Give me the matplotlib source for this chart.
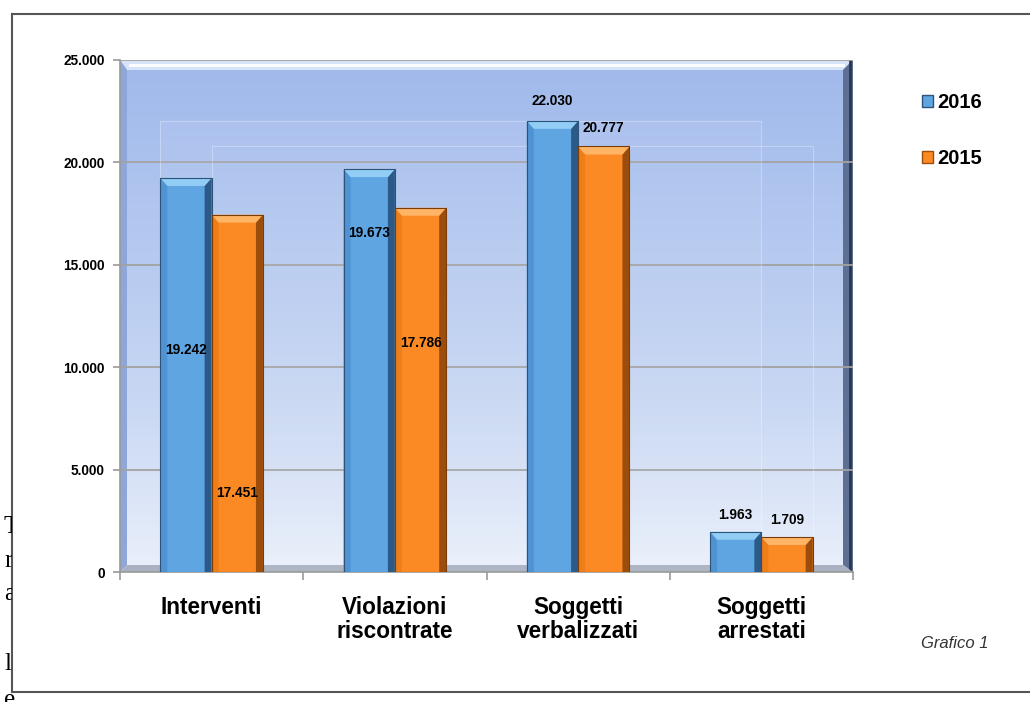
import numpy as np
import matplotlib
matplotlib.use('Agg')
import matplotlib.pyplot as plt
from matplotlib.patches import Polygon, Rectangle, Patch
from matplotlib.colors import LinearSegmentedColormap
from matplotlib.lines import Line2D
from matplotlib.transforms import Bbox, TransformedBbox

plt.rcParams['font.family'] = ['Liberation Sans', 'DejaVu Sans']

# --- dati ---
CATEGORIE = ['Interventi', 'Violazioni\nriscontrate', 'Soggetti\nverbalizzati', 'Soggetti\narrestati']
VAL_2016 = [19242, 19673, 22030, 1963]
VAL_2015 = [17451, 17786, 20777, 1709]
# altezza delle etichette dati, come posizionate a mano nell'originale
ETI_2016 = [10840, 16550, 23020, 2780]
ETI_2015 = [3860, 11180, 21680, 2540]
YTICKS = [0, 5000, 10000, 15000, 20000, 25000]

BLU = dict(face='#5fa5e2', left='#4f93d2', right='#2c5a88', top='#92cdf6', edge='#2d5478')
ARANCIO = dict(face='#fb8a24', left='#ef7d18', right='#9c4d0c', top='#ffb466', edge='#7a3d0a')

W = 0.28

fig = plt.figure(figsize=(10.30, 7.02), dpi=100, facecolor='white')
ax = fig.add_axes([120 / 1030, 1 - 572 / 702, 733 / 1030, 512 / 702])

ax.set_xlim(-0.5, len(CATEGORIE) - 0.5)
ax.set_ylim(0, 25000)

# sfondo a gradiente della parete
cmap = LinearSegmentedColormap.from_list('parete', ['#eaf0fb', '#c8d7f3', '#b3c8f0', '#a0b9eb'])
grad = np.linspace(0, 1, 256).reshape(-1, 1)
ax.imshow(grad, cmap=cmap, aspect='auto', extent=[0, 1, 0, 1], origin='lower',
          transform=ax.transAxes, zorder=0)

# smussi della parete
dx, dy = 10 / 733, 10 / 512
ax.add_patch(Polygon([(0, 1), (1, 1), (1 - dx, 1 - dy), (dx * 0.7, 1 - dy)], closed=True,
                     transform=ax.transAxes, facecolor='#d6e4fa', edgecolor='none', zorder=1))
ax.add_line(Line2D([dx, 1 - dx], [1 - dy * 0.55, 1 - dy * 0.55], transform=ax.transAxes,
                   color='white', lw=2.2, alpha=0.9, zorder=1))
ax.add_patch(Polygon([(1, 1), (1, 0), (1 - dx, dy * 0.7), (1 - dx, 1 - dy)], closed=True,
                     transform=ax.transAxes, facecolor='#5d6f92', edgecolor='none', zorder=1))
ax.add_line(Line2D([1 - dx * 0.3, 1 - dx * 0.3], [0, 1], transform=ax.transAxes,
                   color='#2b3650', lw=2, zorder=1))
ax.add_patch(Polygon([(0, 1), (0, 0), (dx * 0.7, dy * 0.7), (dx * 0.7, 1 - dy)], closed=True,
                     transform=ax.transAxes, facecolor='#8fa7d6', edgecolor='none', zorder=1))
ax.add_patch(Polygon([(0, 0), (1, 0), (1 - dx, dy * 0.7), (dx * 0.7, dy * 0.7)], closed=True,
                     transform=ax.transAxes, facecolor='#a9b1c2', edgecolor='none', zorder=1))

# griglia
for yv in YTICKS[1:]:
    ax.axhline(yv, color='#a2a2a2', lw=1.3, zorder=2)

x = np.arange(len(CATEGORIE))

# piani di profondita delle serie (artefatto 3D dell'originale)
ax.add_patch(Rectangle((x[0] - W, 0), x[-1] - x[0] + W, max(VAL_2016), facecolor='white',
                       alpha=0.06, edgecolor='none', zorder=2))
ax.add_patch(Rectangle((x[0] - W, 0), x[-1] - x[0] + W, max(VAL_2016), facecolor='none',
                       edgecolor='white', alpha=0.3, lw=0.8, zorder=2))
ax.add_patch(Rectangle((x[0], 0), x[-1] - x[0] + W, max(VAL_2015), facecolor='none',
                       edgecolor='white', alpha=0.3, lw=0.8, zorder=2))


def barre_smussate(pos, valori, col, label):
    bars = ax.bar(pos, valori, W, color=col['face'], edgecolor=col['edge'], lw=0.6,
                  zorder=3, label=label)
    bx = 7 / 183
    by = 8 * 25000 / 512
    for b in bars:
        x0, w, h = b.get_x(), b.get_width(), b.get_height()
        byy = min(by, h * 0.45)
        ax.add_patch(Polygon([(x0, 0), (x0, h), (x0 + bx, h - byy), (x0 + bx, 0)],
                             closed=True, facecolor=col['left'], edgecolor='none', zorder=4))
        ax.add_patch(Polygon([(x0 + w, 0), (x0 + w, h), (x0 + w - bx, h - byy), (x0 + w - bx, 0)],
                             closed=True, facecolor=col['right'], edgecolor='none', zorder=4))
        ax.add_patch(Polygon([(x0, h), (x0 + w, h), (x0 + w - bx, h - byy), (x0 + bx, h - byy)],
                             closed=True, facecolor=col['top'], edgecolor='none', zorder=4))
        ax.add_patch(Rectangle((x0, 0), w, h, facecolor='none', edgecolor=col['edge'],
                               lw=0.8, zorder=5))
    return bars


barre_smussate(x - W / 2, VAL_2016, BLU, '2016')
barre_smussate(x + W / 2, VAL_2015, ARANCIO, '2015')


def fmt(v):
    return f'{v:,}'.replace(',', '.')


for i in range(len(CATEGORIE)):
    ax.text(x[i] - W / 2, ETI_2016[i], fmt(VAL_2016[i]), ha='center', va='center',
            fontsize=9.8, fontweight='bold', zorder=6)
    ax.text(x[i] + W / 2, ETI_2015[i], fmt(VAL_2015[i]), ha='center', va='center',
            fontsize=9.8, fontweight='bold', zorder=6)

# assi
ax.set_yticks(YTICKS)
ax.set_yticklabels([fmt(v) for v in YTICKS], fontsize=9.8, fontweight='bold')
ax.set_xticks(np.arange(-0.5, len(CATEGORIE)), labels=[''] * (len(CATEGORIE) + 1))
ax.set_xticks(x, labels=CATEGORIE, minor=True)
ax.tick_params(axis='x', which='minor', length=0, pad=17, labelsize=16.3)
ax.tick_params(axis='x', which='major', length=6, color='#999999', width=1.2)
ax.tick_params(axis='y', length=5, color='#999999', width=1.2, pad=6)
for t in ax.get_xticklabels(minor=True):
    t.set_fontweight('bold')
    t.set_linespacing(1.05)
    t.set_va('top')
for s in ['top', 'right']:
    ax.spines[s].set_visible(False)
ax.spines['left'].set_color('#999999')
ax.spines['bottom'].set_color('#999999')
ax.spines['left'].set_linewidth(1.2)
ax.spines['bottom'].set_linewidth(1.2)

# legenda
handles = [Patch(facecolor=BLU['face'], edgecolor=BLU['edge'], label='2016'),
           Patch(facecolor=ARANCIO['face'], edgecolor=ARANCIO['right'], label='2015')]
fig.legend(handles=handles, loc='upper left', bbox_to_anchor=(922 / 1030, 1 - 93 / 702),
           frameon=False, handlelength=0.55, handleheight=0.55, handletextpad=0.2,
           labelspacing=1.85, borderpad=0, borderaxespad=0,
           prop={'size': 14.5, 'weight': 'bold'})

fig.text(955 / 1030, 1 - 643 / 702, 'Grafico 1', ha='center', va='center', fontsize=12,
         style='italic', color='#333333', family=['Liberation Sans Narrow', 'Liberation Sans'])

# cornice del riquadro
for xs, ys in [([12, 12], [14, 692]), ([12, 1030], [14, 14]), ([12, 1030], [692, 692])]:
    fig.add_artist(Line2D([v / 1030 for v in xs], [1 - v / 702 for v in ys],
                          transform=fig.transFigure, color='#555555', lw=1.5))

# frammenti del testo del documento, tagliati dal riquadro
clip = TransformedBbox(Bbox([[0, 0], [12 / 1030, 1]]), fig.transFigure)
for lettera, yb in [('T', 533), ('r', 567), ('a', 600), ('l', 670)]:
    t = fig.text(4 / 1030, 1 - yb / 702, lettera, fontsize=18, va='baseline',
                 family=['Liberation Serif', 'DejaVu Serif'])
    t.set_clip_box(clip)
    t.set_clip_on(True)
fig.text(4 / 1030, 1 - 706 / 702, 'e', fontsize=18, va='baseline',
         family=['Liberation Serif', 'DejaVu Serif'])

fig.savefig('out.png', dpi=100, facecolor='white')
